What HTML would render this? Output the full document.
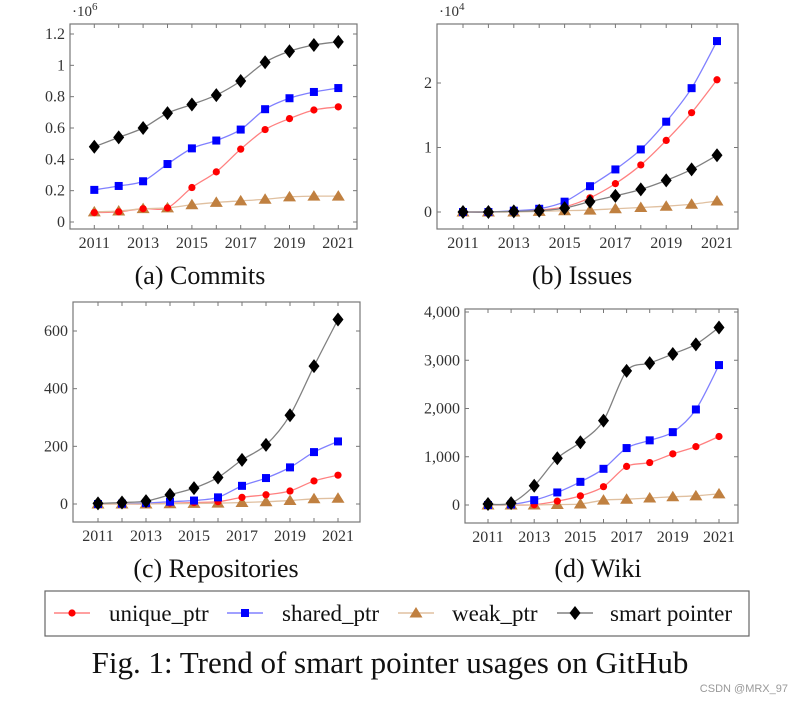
<!DOCTYPE html>
<html><head><meta charset="utf-8"><style>
body{margin:0;background:#fff;}
svg text{font-family:"Liberation Serif",serif;}
</style></head><body>
<svg id="fig" width="802" height="701" viewBox="0 0 802 701" xmlns="http://www.w3.org/2000/svg"></svg>
<script>
const years=[2011,2012,2013,2014,2015,2016,2017,2018,2019,2020,2021];
const xTickLabels=[2011,2013,2015,2017,2019,2021];
// Commits (x1e6)
const commitsUnique=[0.06,0.065,0.085,0.09,0.22,0.32,0.465,0.59,0.66,0.715,0.735];
const commitsShared=[0.205,0.23,0.26,0.37,0.47,0.52,0.59,0.72,0.79,0.83,0.855];
const commitsWeak=[0.065,0.07,0.085,0.09,0.11,0.125,0.135,0.145,0.16,0.165,0.165];
const commitsSmart=[0.48,0.54,0.60,0.695,0.75,0.81,0.90,1.02,1.09,1.13,1.15];
const commitsTicks=[0,0.2,0.4,0.6,0.8,1,1.2];
// Issues (x1e4)
const issuesUnique=[0,0,0.01,0.03,0.08,0.22,0.44,0.73,1.11,1.54,2.05];
const issuesShared=[0,0,0.02,0.05,0.16,0.40,0.66,0.97,1.40,1.92,2.65];
const issuesWeak=[0,0,0,0.01,0.02,0.03,0.05,0.07,0.09,0.12,0.17];
const issuesSmart=[0,0,0.01,0.02,0.06,0.16,0.25,0.35,0.49,0.66,0.88];
const issuesTicks=[0,1,2];
// Repositories
const repoUnique=[0,0,0,3,5,8,23,32,45,80,100];
const repoShared=[0,1,3,8,12,23,63,90,127,180,217];
const repoWeak=[0,0,0,1,2,3,5,8,12,18,20];
const repoSmart=[2,5,10,32,55,92,153,205,308,478,640];
const repoTicks=[0,200,400,600];
// Wiki
const wikiUnique=[0,0,5,80,190,380,800,880,1060,1210,1420];
const wikiShared=[0,10,100,260,480,750,1180,1340,1510,1980,2900];
const wikiWeak=[0,0,0,10,20,100,120,145,170,190,230];
const wikiSmart=[20,40,400,970,1300,1750,2780,2940,3130,3330,3680];
const wikiTicks=[0,1000,2000,3000,4000];

const NS="http://www.w3.org/2000/svg";
const svg=document.getElementById('fig');
function mk(tag,attrs,parent){const e=document.createElementNS(NS,tag);for(const k in attrs)e.setAttribute(k,attrs[k]);(parent||svg).appendChild(e);return e;}
const colors={unique:'#ff0000',shared:'#0000ff',weak:'#c08040',smart:'#000000'};
const lineCol={unique:'#ff8080',shared:'#8080ff',weak:'#e0c0a0',smart:'#808080'};

function marker(type,x,y,g){
  let m;
  if(type==='unique')m=mk('circle',{cx:x,cy:y,r:3.6,fill:colors.unique},g);
  else if(type==='shared')m=mk('rect',{x:x-4,y:y-4,width:8,height:8,fill:colors.shared},g);
  else if(type==='weak')m=mk('polygon',{points:`${x},${y-6} ${x+6.5},${y+4.5} ${x-6.5},${y+4.5}`,fill:colors.weak},g);
  else m=mk('polygon',{points:`${x},${y-7} ${x+5.5},${y} ${x},${y+7} ${x-5.5},${y}`,fill:colors.smart},g);
  
  
}
function smoothPath(pts){
  let d=`M${pts[0][0]},${pts[0][1]}`;
  for(let i=0;i<pts.length-1;i++){
    const p0=pts[Math.max(i-1,0)],p1=pts[i],p2=pts[i+1],p3=pts[Math.min(i+2,pts.length-1)];
    const t=0.15;
    d+=` C${p1[0]+(p2[0]-p0[0])*t},${p1[1]+(p2[1]-p0[1])*t} ${p2[0]-(p3[0]-p1[0])*t},${p2[1]-(p3[1]-p1[1])*t} ${p2[0]},${p2[1]}`;
  }
  return d;
}
function chart(cfg){
  const g=mk('g',{});
  
  
  const xs=v=>cfg.x0+(v-2011)*(cfg.x1-cfg.x0)/10;
  const ys=v=>cfg.y0+(v-cfg.v0)*(cfg.y1-cfg.y0)/(cfg.v1-cfg.v0);
  const fr=mk('rect',{x:cfg.L,y:cfg.T,width:cfg.R-cfg.L,height:cfg.B-cfg.T,fill:'none',stroke:'#777','stroke-width':1.2},g);
  
  
  years.forEach(yr=>{const x=xs(yr);
    mk('line',{x1:x,y1:cfg.B,x2:x,y2:cfg.B-4,stroke:'#777'},g);
    mk('line',{x1:x,y1:cfg.T,x2:x,y2:cfg.T+4,stroke:'#777'},g);});
  xTickLabels.forEach(yr=>{const t=mk('text',{x:xs(yr),y:cfg.B+19,'text-anchor':'middle','font-size':16,fill:'#333'},g);t.textContent=yr;
    
    });
  cfg.ticks.forEach(v=>{const y=ys(v);
    mk('line',{x1:cfg.L,y1:y,x2:cfg.L+4,y2:y,stroke:'#777'},g);
    mk('line',{x1:cfg.R,y1:y,x2:cfg.R-4,y2:y,stroke:'#777'},g);
    const t=mk('text',{x:cfg.L-5,y:y+5,'text-anchor':'end','font-size':16,fill:'#333'},g);
    t.textContent=cfg.fmt?cfg.fmt(v):String(v);
    
    });
  if(cfg.mult){const t=mk('text',{x:cfg.L+2,y:cfg.T-8,'font-size':15,fill:'#333'},g);
    t.innerHTML='·10<tspan dy="-6" font-size="11">'+cfg.mult+'</tspan>';
    
    }
  ['unique','shared','weak','smart'].forEach(k=>{
    const pts=cfg.series[k].map((v,i)=>[xs(years[i]),ys(v)]);
    const p=mk('path',{d:smoothPath(pts),fill:'none',stroke:lineCol[k],'stroke-width':1.3},g);
    
    
  });
  ['weak','unique','shared','smart'].forEach(k=>{
    cfg.series[k].forEach((v,i)=>marker(k,xs(years[i]),ys(v),g));
  });
  const c=mk('text',{x:cfg.cx,y:cfg.cy,'text-anchor':'middle','font-size':26,fill:'#111'},g);
  c.textContent=cfg.caption;
  
  
}
const comma=v=>v.toLocaleString('en-US');
chart({name:'commits-chart',L:70,R:357,T:24,B:229,x0:94.3,x1:338.3,v0:0,v1:1.2,y0:222,y1:34,ticks:commitsTicks,mult:'6',
  series:{unique:commitsUnique,shared:commitsShared,weak:commitsWeak,smart:commitsSmart},caption:'(a) Commits',cx:200,cy:284});
chart({name:'issues-chart',L:437,R:738,T:24,B:229,x0:463,x1:717,v0:0,v1:2,y0:212,y1:83,ticks:issuesTicks,mult:'4',
  series:{unique:issuesUnique,shared:issuesShared,weak:issuesWeak,smart:issuesSmart},caption:'(b) Issues',cx:582,cy:284});
chart({name:'repositories-chart',L:73,R:360,T:302,B:522,x0:98,x1:338,v0:0,v1:600,y0:504,y1:331,ticks:repoTicks,
  series:{unique:repoUnique,shared:repoShared,weak:repoWeak,smart:repoSmart},caption:'(c) Repositories',cx:216,cy:577});
chart({name:'wiki-chart',L:465,R:738,T:309,B:523,x0:488,x1:719,v0:0,v1:4000,y0:505,y1:312,ticks:wikiTicks,fmt:comma,
  series:{unique:wikiUnique,shared:wikiShared,weak:wikiWeak,smart:wikiSmart},caption:'(d) Wiki',cx:598,cy:577});

// legend
const lg=mk('g',{});


mk('rect',{x:45,y:591,width:704,height:45,fill:'#fff',stroke:'#666','stroke-width':1.2},lg);
const items=[['unique','unique_ptr',72,109],['shared','shared_ptr',245,282],['weak','weak_ptr',416,452],['smart','smart pointer',575,610]];
items.forEach(([k,label,mx,tx])=>{
  const e=mk('g',{},lg);
  
  
  mk('line',{x1:mx-18,y1:613,x2:mx+18,y2:613,stroke:lineCol[k],'stroke-width':1.5},e);
  marker(k,mx,613,e);
  const t=mk('text',{x:tx,y:621,'font-size':23,fill:'#111'},e);t.textContent=label;
});
const cap=mk('text',{x:390,y:673,'text-anchor':'middle','font-size':31,fill:'#111'});
cap.textContent='Fig. 1: Trend of smart pointer usages on GitHub';


const wm=mk('text',{x:788,y:692,'text-anchor':'end','font-size':11,fill:'#999'});
wm.setAttribute('style','font-family:"Liberation Sans",sans-serif');
wm.textContent='CSDN @MRX_97';


</script>
</body></html>
